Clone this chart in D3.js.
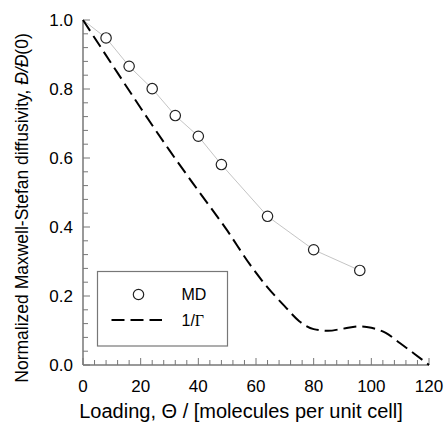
<!DOCTYPE html>
<html>
<head>
<meta charset="utf-8">
<script src="https://cdn.jsdelivr.net/npm/d3@7"></script>
<style>
  body { margin: 0; background: #fff; }
  text { font-family: Arial, "Liberation Sans", sans-serif; }
</style>
</head>
<body>
<svg id="chart" width="446" height="435"></svg>
<script>
// MD simulation points
var mdLoading = [8, 16, 24, 32, 40, 48, 64, 80, 96];
var mdDiffusivity = [0.948, 0.866, 0.801, 0.723, 0.663, 0.581, 0.431, 0.334, 0.274];

// 1/Gamma curve
var gammaLoading = [0, 10, 20, 30, 40, 50, 58, 64, 70, 75, 80, 85, 90, 96, 100, 105, 110, 115, 120];
var gammaInverse = [1.0, 0.872, 0.745, 0.622, 0.505, 0.39, 0.29, 0.225, 0.17, 0.127, 0.104, 0.099, 0.105, 0.112, 0.108, 0.093, 0.063, 0.032, 0.0];

var xTicks = [0, 20, 40, 60, 80, 100, 120];
var yTicks = [0.0, 0.2, 0.4, 0.6, 0.8, 1.0];

function drawChart() {
  var svg = d3.select('#chart');
  var plotLeft = 83, plotRight = 429, plotTop = 20, plotBottom = 365;

  var x = d3.scaleLinear().domain([0, 120]).range([plotLeft, plotRight]);
  var y = d3.scaleLinear().domain([0, 1]).range([plotBottom, plotTop]);

  var axisColor = '#777';

  // minor ticks
  var xMinor = d3.range(0, 121, 4);
  var yMinor = d3.range(0, 26).map(function(i) { return i * 0.04; });

  var axisLayer = svg.append('g');

  axisLayer.selectAll('.xminor').data(xMinor).enter().append('line')
    .attr('x1', function(d) { return x(d); })
    .attr('x2', function(d) { return x(d); })
    .attr('y1', plotBottom)
    .attr('y2', function(d) { return d % 20 === 0 ? plotBottom - 7 : plotBottom - 5; })
    .attr('stroke', axisColor).attr('stroke-width', 1);

  axisLayer.selectAll('.yminor').data(yMinor).enter().append('line')
    .attr('x1', plotLeft)
    .attr('x2', function(d, i) { return i % 5 === 0 ? plotLeft + 7 : plotLeft + 5; })
    .attr('y1', function(d) { return y(d); })
    .attr('y2', function(d) { return y(d); })
    .attr('stroke', axisColor).attr('stroke-width', 1);

  axisLayer.append('line')
    .attr('x1', plotLeft).attr('x2', plotLeft).attr('y1', plotTop).attr('y2', plotBottom)
    .attr('stroke', axisColor).attr('stroke-width', 1.5);
  axisLayer.append('line')
    .attr('x1', plotLeft).attr('x2', plotRight).attr('y1', plotBottom).attr('y2', plotBottom)
    .attr('stroke', axisColor).attr('stroke-width', 1.5);

  axisLayer.selectAll('.xlab').data(xTicks).enter().append('text')
    .attr('x', function(d) { return x(d); })
    .attr('y', 392)
    .attr('text-anchor', 'middle')
    .attr('font-size', 17)
    .text(function(d) { return d; });

  axisLayer.selectAll('.ylab').data(yTicks).enter().append('text')
    .attr('x', 73)
    .attr('y', function(d) { return y(d) + 6; })
    .attr('text-anchor', 'end')
    .attr('font-size', 17)
    .text(function(d) { return d.toFixed(1); });

  // axis titles
  svg.append('text')
    .attr('x', 241).attr('y', 418)
    .attr('text-anchor', 'middle')
    .attr('font-size', 20)
    .text('Loading, \u0398 / [molecules per unit cell]');

  var yTitle = svg.append('text')
    .attr('transform', 'translate(28,208) rotate(-90)')
    .attr('text-anchor', 'middle')
    .attr('font-size', 17.5);
  yTitle.append('tspan').text('Normalized Maxwell-Stefan diffusivity, ');
  yTitle.append('tspan').attr('font-style', 'italic').text('\u0110/\u0110');
  yTitle.append('tspan').text('(0)');

  // MD line (thin gray) from (0,1) through the points
  var mdLine = d3.line()
    .x(function(d) { return x(d[0]); })
    .y(function(d) { return y(d[1]); });
  var mdPts = [[0, 1]].concat(mdLoading.map(function(d, i) { return [d, mdDiffusivity[i]]; }));
  svg.append('path')
    .attr('d', mdLine(mdPts))
    .attr('fill', 'none')
    .attr('stroke', '#b5b5b5')
    .attr('stroke-width', 0.8);

  // 1/Gamma dashed curve
  var gammaLine = d3.line()
    .x(function(d, i) { return x(gammaLoading[i]); })
    .y(function(d) { return y(d); })
    .curve(d3.curveMonotoneX);
  svg.append('path')
    .attr('d', gammaLine(gammaInverse))
    .attr('fill', 'none')
    .attr('stroke', '#000')
    .attr('stroke-width', 2)
    .attr('stroke-dasharray', '13,6');

  svg.selectAll('.md').data(mdLoading).enter().append('circle')
    .attr('cx', function(d) { return x(d); })
    .attr('cy', function(d, i) { return y(mdDiffusivity[i]); })
    .attr('r', 5.2)
    .attr('fill', '#fff')
    .attr('stroke', '#222')
    .attr('stroke-width', 1.2);

  // legend
  var legend = svg.append('g');
  legend.append('rect')
    .attr('x', 97.5).attr('y', 271.5).attr('width', 130).attr('height', 74.5)
    .attr('fill', '#fff').attr('stroke', axisColor).attr('stroke-width', 1.2);
  legend.append('circle')
    .attr('cx', 138.5).attr('cy', 294.5).attr('r', 5.2)
    .attr('fill', '#fff').attr('stroke', '#222').attr('stroke-width', 1.2);
  legend.append('text')
    .attr('x', 181.5).attr('y', 300).attr('font-size', 16).text('MD');
  legend.append('line')
    .attr('x1', 111.5).attr('x2', 162).attr('y1', 320).attr('y2', 320)
    .attr('stroke', '#000').attr('stroke-width', 2).attr('stroke-dasharray', '13,6');
  var gl = legend.append('text')
    .attr('x', 181.5).attr('y', 326).attr('font-size', 16);
  gl.append('tspan').text('1/');
  gl.append('tspan').attr('font-family', '"Liberation Serif", "Times New Roman", serif').text('\u0393');
}

drawChart();
</script>
</body>
</html>
